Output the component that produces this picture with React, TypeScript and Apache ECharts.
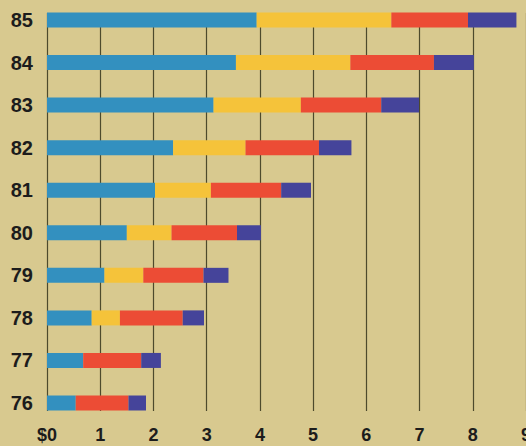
import React, { useEffect, useRef } from "react";
import * as echarts from "echarts";

const years = ["76", "77", "78", "79", "80", "81", "82", "83", "84", "85"];
const blueVals = [0.54, 0.68, 0.84, 1.08, 1.5, 2.03, 2.37, 3.13, 3.55, 3.94];
const yellowVals = [0, 0, 0.53, 0.73, 0.84, 1.05, 1.36, 1.64, 2.15, 2.53];
const redVals = [0.99, 1.09, 1.18, 1.13, 1.23, 1.32, 1.38, 1.51, 1.57, 1.44];
const navyVals = [0.33, 0.37, 0.4, 0.47, 0.45, 0.56, 0.61, 0.71, 0.75, 0.91];
const xTickLabels = ["$0", "1", "2", "3", "4", "5", "6", "7", "8", "9"];

const colors = ["#3390bf", "#f5c33a", "#ec4c35", "#45449a"];

export default function App() {
  const ref = useRef<HTMLDivElement>(null);
  useEffect(() => {
    if (!ref.current) return;
    const chart = echarts.init(ref.current, null, { renderer: "svg" });
    const font = "'Liberation Sans', Arial, sans-serif";
    const mk = (name: string, data: number[], color: string) => ({
      name,
      type: "bar",
      stack: "total",
      xAxisIndex: 0,
      yAxisIndex: 0,
      barWidth: 15,
      data,
      itemStyle: { color },
    });
    chart.setOption({
      animation: false,
      backgroundColor: "#d8c98f",
      grid: [
        { left: 47, right: 0, top: 20, bottom: 43, containLabel: false, outerBoundsMode: "none" },
        { left: 47, right: 0, top: 13, bottom: 35, containLabel: false, outerBoundsMode: "none" },
      ],
      xAxis: [
        {
          gridIndex: 0,
          type: "value",
          min: 0,
          max: 9,
          interval: 1,
          show: false,
        },
        {
          gridIndex: 1,
          type: "value",
          min: 0,
          max: 9,
          interval: 1,
          axisLine: { show: false },
          axisTick: { show: false },
          splitLine: { show: true, lineStyle: { color: "#4d4a2c", width: 1.2 } },
          axisLabel: {
            margin: 15,
            fontSize: 18,
            fontWeight: "bold",
            fontFamily: font,
            color: "#1c1c1c",
            formatter: (v: number) => xTickLabels[Math.round(v)],
          },
        },
      ],
      yAxis: [
        {
          gridIndex: 0,
          type: "category",
          data: years,
          boundaryGap: false,
          axisLine: { show: false },
          axisTick: { show: false },
          splitLine: { show: false },
          axisLabel: {
            margin: 14,
            fontSize: 20,
            fontWeight: "bold",
            fontFamily: font,
            color: "#1c1c1c",
          },
        },
        {
          gridIndex: 1,
          type: "value",
          min: 0,
          max: 1,
          show: false,
        },
      ],
      series: [
        mk("A", blueVals, colors[0]),
        mk("B", yellowVals, colors[1]),
        mk("C", redVals, colors[2]),
        mk("D", navyVals, colors[3]),
      ],
    });
    return () => chart.dispose();
  }, []);
  return <div ref={ref} style={{ width: 526, height: 446, position: "absolute", left: 0, top: 0 }} />;
}
